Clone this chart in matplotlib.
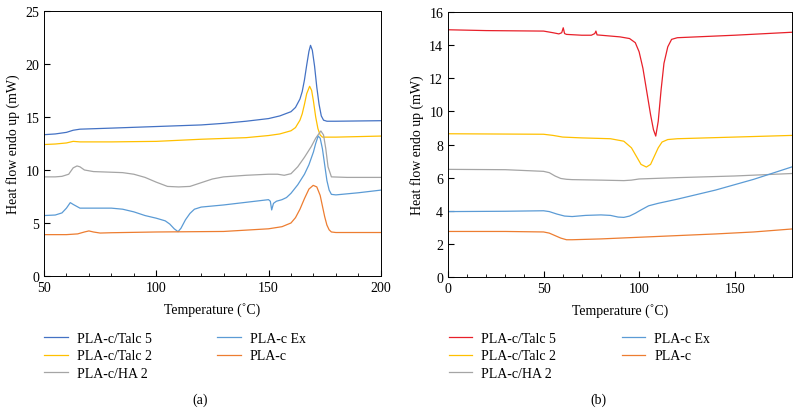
import numpy as np
import matplotlib
matplotlib.use("Agg")
import matplotlib.pyplot as plt
from matplotlib.ticker import MultipleLocator

plt.rcParams["font.family"] = ["Liberation Serif", "DejaVu Serif"]
plt.rcParams["font.size"] = 10

labels = ["PLA-c/Talc 5", "PLA-c/Talc 2", "PLA-c/HA 2", "PLA-c Ex", "PLA-c"]
colors_a = ["#4472C4", "#FFC000", "#A5A5A5", "#5B9BD5", "#ED7D31"]
colors_b = ["#E8202A", "#FFC000", "#A5A5A5", "#5B9BD5", "#ED7D31"]

# (a) heating traces
a_talc5_x = [50, 55, 60, 63, 66, 80, 100, 120, 130, 140, 150, 155, 160, 162, 164, 165, 166, 167, 168, 168.7, 169.5, 170.5, 171.5, 172.5, 173.5, 174.5, 176, 180, 200]
a_talc5_y = [13.33, 13.4, 13.55, 13.75, 13.85, 13.95, 14.1, 14.25, 14.4, 14.6, 14.85, 15.1, 15.5, 15.9, 16.7, 17.4, 18.5, 19.9, 21.2, 21.76, 21.3, 19.8, 17.8, 16.2, 15.1, 14.7, 14.6, 14.6, 14.65]
a_talc2_x = [50, 55, 60, 63, 66, 80, 100, 120, 140, 150, 155, 160, 162, 164, 165, 166, 167, 168.3, 169.2, 170, 171, 172, 173, 174, 180, 200]
a_talc2_y = [12.4, 12.45, 12.55, 12.7, 12.65, 12.65, 12.7, 12.9, 13.05, 13.25, 13.4, 13.7, 14.0, 14.7, 15.3, 16.2, 17.2, 17.9, 17.5, 16.5, 15.0, 13.9, 13.3, 13.1, 13.1, 13.2]
a_ha2_x = [50, 55, 58, 61, 63, 64.7, 66, 68, 72, 85, 90, 95, 100, 105, 110, 115, 120, 125, 130, 140, 150, 154, 157, 160, 163, 166, 169, 171, 173.3, 174.5, 175.5, 176.5, 178, 185, 200]
a_ha2_y = [9.35, 9.35, 9.4, 9.6, 10.2, 10.38, 10.3, 10.0, 9.85, 9.75, 9.6, 9.3, 8.85, 8.45, 8.4, 8.45, 8.8, 9.15, 9.35, 9.5, 9.6, 9.6, 9.5, 9.65, 10.3, 11.2, 12.2, 13.0, 13.68, 13.3, 12.0, 10.3, 9.35, 9.3, 9.3]
a_ex_x = [50, 55, 58, 60, 61.7, 63, 66, 70, 80, 85, 90, 95, 100, 104, 106, 108, 109.7, 111, 113, 115, 117, 120, 130, 140, 148, 150, 150.8, 151.4, 152.2, 153.5, 156, 158, 160, 163, 166, 168, 170, 171, 172.1, 173, 174, 175, 176, 177, 178, 180, 190, 200]
a_ex_y = [5.7, 5.75, 5.95, 6.4, 6.92, 6.75, 6.4, 6.4, 6.4, 6.3, 6.05, 5.7, 5.45, 5.2, 4.9, 4.45, 4.18, 4.5, 5.3, 5.9, 6.3, 6.5, 6.7, 6.95, 7.15, 7.2, 7.05, 6.23, 6.85, 7.05, 7.2, 7.4, 7.8, 8.6, 9.6, 10.5, 11.7, 12.5, 13.2, 13.0, 12.0, 10.5, 9.0, 8.1, 7.7, 7.65, 7.85, 8.1]
a_plac_x = [50, 60, 65, 68, 70, 72, 75, 80, 100, 130, 150, 156, 160, 162, 164, 166, 168, 169.9, 171.5, 173, 174, 175, 176, 177, 178, 180, 200]
a_plac_y = [3.9, 3.9, 3.97, 4.15, 4.25, 4.15, 4.05, 4.08, 4.15, 4.2, 4.45, 4.65, 5.0, 5.5, 6.3, 7.3, 8.2, 8.55, 8.4, 7.6, 6.6, 5.6, 4.8, 4.35, 4.15, 4.1, 4.1]

# (b) cooling traces
b_talc5_x = [0, 20, 50, 55, 58, 59.5, 60.3, 61, 62, 70, 75, 76.8, 77.4, 78, 80, 90, 95, 98, 100, 102, 104, 106, 107.5, 108.7, 110, 111.5, 113, 115, 117, 120, 150, 180]
b_talc5_y = [14.93, 14.88, 14.85, 14.75, 14.68, 14.75, 15.05, 14.7, 14.65, 14.6, 14.6, 14.7, 14.85, 14.62, 14.6, 14.5, 14.4, 14.15, 13.6, 12.6, 11.2, 9.8, 8.9, 8.51, 9.4, 11.3, 12.9, 13.9, 14.35, 14.45, 14.6, 14.78]
b_talc2_x = [0, 50, 55, 60, 70, 85, 92, 96, 99, 101, 103.8, 106, 108, 110, 112, 115, 120, 150, 180]
b_talc2_y = [8.65, 8.62, 8.55, 8.45, 8.4, 8.35, 8.2, 7.8, 7.2, 6.8, 6.64, 6.8, 7.3, 7.8, 8.15, 8.3, 8.35, 8.45, 8.55]
b_ha2_x = [0, 30, 50, 53, 56, 59, 62, 65, 80, 92, 96, 100, 120, 150, 180]
b_ha2_y = [6.5, 6.48, 6.38, 6.3, 6.1, 5.95, 5.9, 5.88, 5.85, 5.82, 5.85, 5.92, 6.0, 6.1, 6.25]
b_ex_x = [0, 30, 50, 53, 57, 61, 65, 72, 80, 85, 89, 92, 95, 98, 101, 105, 110, 120, 140, 160, 180]
b_ex_y = [3.95, 3.97, 4.0, 3.95, 3.8, 3.68, 3.65, 3.72, 3.75, 3.72, 3.62, 3.6, 3.68, 3.85, 4.05, 4.3, 4.45, 4.7, 5.25, 5.9, 6.65]
b_plac_x = [0, 30, 50, 53, 56, 59, 62, 65, 80, 100, 120, 140, 160, 180]
b_plac_y = [2.75, 2.75, 2.72, 2.65, 2.5, 2.35, 2.25, 2.25, 2.3, 2.4, 2.5, 2.6, 2.72, 2.9]

series_a = [(a_talc5_x, a_talc5_y), (a_talc2_x, a_talc2_y), (a_ha2_x, a_ha2_y),
            (a_ex_x, a_ex_y), (a_plac_x, a_plac_y)]
series_b = [(b_talc5_x, b_talc5_y), (b_talc2_x, b_talc2_y), (b_ha2_x, b_ha2_y),
            (b_ex_x, b_ex_y), (b_plac_x, b_plac_y)]

fig = plt.figure(figsize=(8, 4.14), dpi=100)
ax1 = fig.add_axes([0.055, 0.331, 0.421, 0.640])
ax2 = fig.add_axes([0.560, 0.3285, 0.430, 0.640])


def style(ax, xlim, ylim, xmaj, ymaj):
    ax.set_xlim(*xlim)
    ax.set_ylim(*ylim)
    ax.xaxis.set_major_locator(MultipleLocator(xmaj))
    ax.xaxis.set_minor_locator(MultipleLocator(10))
    ax.yaxis.set_major_locator(MultipleLocator(ymaj))
    ax.tick_params(direction="in", which="both", labelsize=10)
    ax.tick_params(which="major", length=4)
    ax.tick_params(which="minor", length=2.5)
    for s in ax.spines.values():
        s.set_linewidth(0.7)
    ax.set_xlabel("Temperature (˚C)", fontsize=10, labelpad=6)
    ax.set_ylabel("Heat flow endo up (mW)", fontsize=10, labelpad=4)


for (x, y), lab, c in zip(series_a, labels, colors_a):
    ax1.plot(x, y, color=c, lw=0.9, label=lab)
for (x, y), lab, c in zip(series_b, labels, colors_b):
    ax2.plot(x, y, color=c, lw=0.9, label=lab)

style(ax1, (50, 200), (0, 25), 50, 5)
style(ax2, (0, 180), (0, 16), 50, 2)

for ax, x0, cap, cx in [(ax1, 0.055, "(a)", 0.25), (ax2, 0.561, "(b)", 0.748)]:
    ax.legend(loc="upper left", bbox_to_anchor=(x0, 0.196), bbox_transform=fig.transFigure,
              ncol=2, frameon=False, fontsize=10, handlelength=1.7, handletextpad=0.65,
              labelspacing=0.33, columnspacing=4.7, borderaxespad=0, borderpad=0)
    fig.text(cx, 0.034, cap, ha="center", va="center", fontsize=10)

fig.savefig("out.png", dpi=100)
